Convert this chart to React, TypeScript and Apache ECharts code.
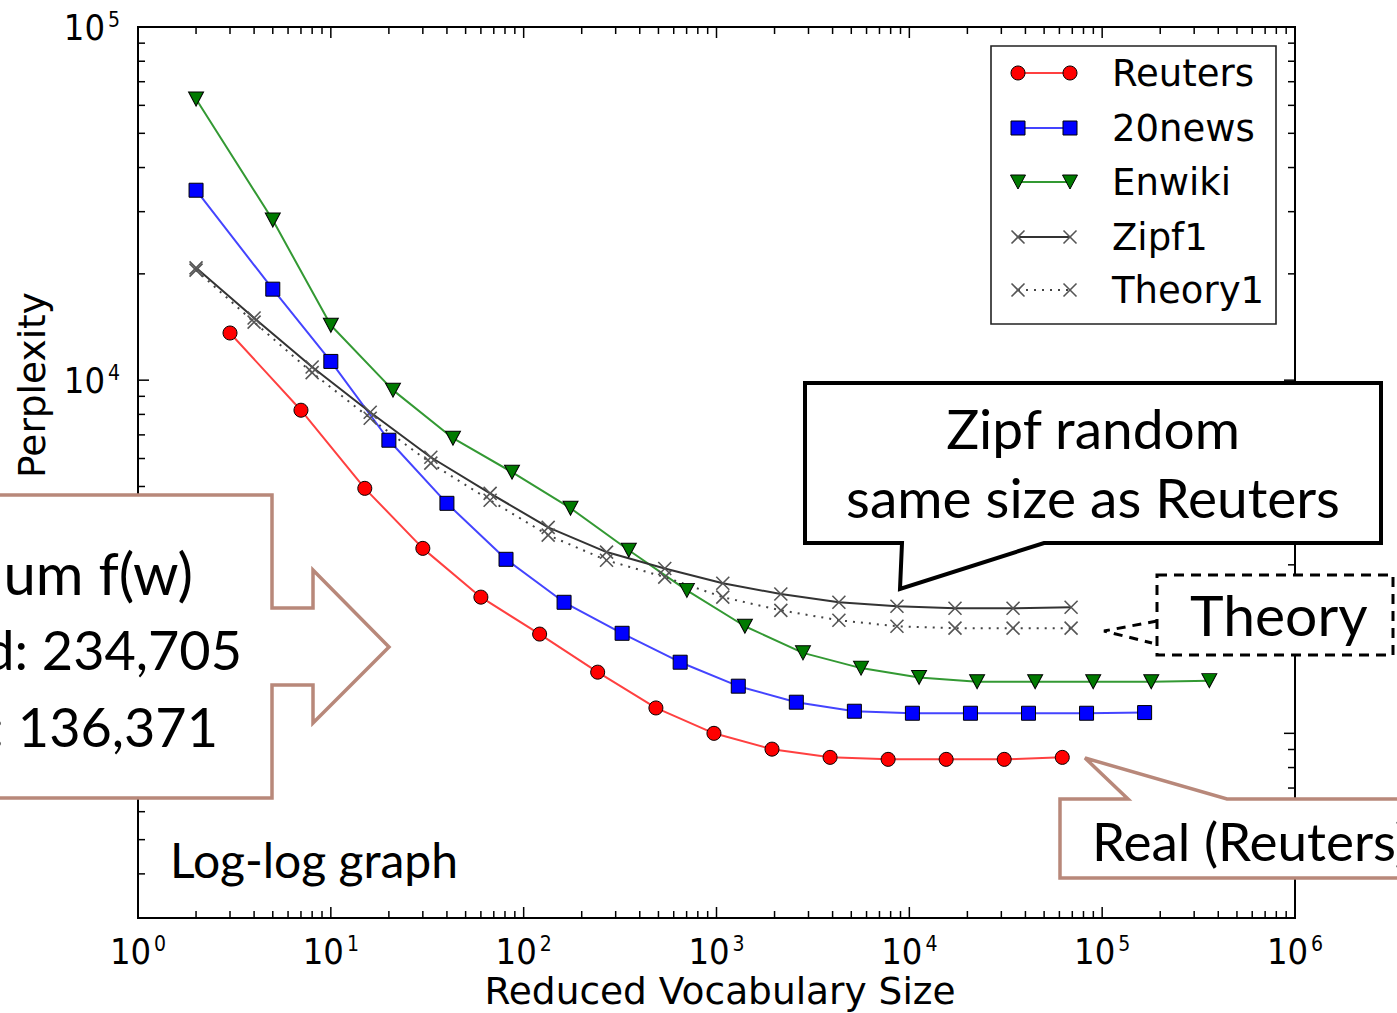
import React, { useEffect, useRef } from 'react';
import * as echarts from 'echarts';

// ---- data ----
const reutersX = [3, 7, 15, 30, 60, 121, 242, 485, 970, 1940, 3881, 7762, 15525, 31050, 62100];
const reutersY = [13600, 8220, 4940, 3340, 2430, 1910, 1490, 1180, 1000, 902, 855, 844, 844, 844, 855];

const news20X = [2, 5, 10, 20, 40, 81, 162, 324, 648, 1297, 2594, 5187, 10375, 20750, 41500, 83000, 166000];
const news20Y = [34500, 18100, 11300, 6760, 4480, 3110, 2350, 1920, 1590, 1360, 1225, 1155, 1140, 1140, 1140, 1140, 1145];

const enwikiX = [2, 5, 10, 21, 43, 87, 175, 351, 702, 1404, 2808, 5616, 11232, 22464, 44928, 89856, 179712, 359424];
const enwikiY = [62500, 28400, 14300, 9370, 6850, 5490, 4340, 3300, 2540, 2010, 1690, 1530, 1440, 1400, 1400, 1400, 1400, 1410];

const zipfX = [2, 4, 8, 16, 33, 67, 134, 269, 539, 1078, 2156, 4312, 8625, 17250, 34500, 69000];
const zipf1Y = [20800, 15000, 10900, 8110, 6050, 4780, 3830, 3260, 2930, 2660, 2480, 2350, 2290, 2260, 2260, 2275];
const theory1Y = [20500, 14600, 10500, 7800, 5820, 4570, 3640, 3090, 2770, 2430, 2230, 2090, 2010, 1985, 1985, 1985];

const legendNames = ['Reuters', '20news', 'Enwiki', 'Zipf1', 'Theory1'];
// y tick label hidden under the slide's callout box in the reference
const hiddenYLabels = [1000];
const xMin = 1, xMax = 1e6, yMin = 300, yMax = 1e5;

const BROWN = '#b8887a';
const X_PATH = 'path://M0,0L10,10M10,0L0,10';
const TICK_FONT = "'Liberation Sans Narrow', 'DejaVu Sans Condensed', 'DejaVu Sans', sans-serif";
const MPL_FONT = "'DejaVu Sans', sans-serif";
const SLIDE_FONT = "Lato, 'Open Sans', sans-serif";

const pairs = (xs: number[], ys: number[]) => xs.map((x, i) => [x, ys[i]]);

export default function App() {
  const ref = useRef<HTMLDivElement>(null);
  useEffect(() => {
    const chart = echarts.init(ref.current!, null, { renderer: 'svg' });
    const labelFmt = (hidden: number[]) => (v: number) => {
      const l = Math.log10(v);
      const r = Math.round(l);
      if (Math.abs(l - r) > 1e-6) return '';
      if (hidden.some((h) => Math.abs(h - v) < 1e-6)) return '';
      return `{a|10}{b|${r}}`;
    };
    const rich = {
      a: { fontSize: 36, fontFamily: TICK_FONT, color: '#000', lineHeight: 36 },
      b: { fontSize: 21, fontFamily: TICK_FONT, color: '#000', verticalAlign: 'top', lineHeight: 22, padding: [0, 0, 0, 3] },
    };
    const markerBorder = { borderColor: '#000', borderWidth: 1 };
    chart.setOption({
      animation: false,
      backgroundColor: '#fff',
      grid: {
        left: 138, right: 102, top: 27, bottom: 95,
        show: true, borderColor: '#000', borderWidth: 2, backgroundColor: 'transparent',
        outerBoundsMode: 'none',
      },
      xAxis: {
        type: 'log', logBase: 10, min: xMin, max: xMax,
        axisLine: { show: false }, axisTick: { show: false }, splitLine: { show: false },
        axisLabel: { formatter: labelFmt([]), rich, margin: 15 },
      },
      yAxis: {
        type: 'log', logBase: 10, min: yMin, max: yMax,
        axisLine: { show: false }, axisTick: { show: false }, splitLine: { show: false },
        axisLabel: { formatter: labelFmt(hiddenYLabels), rich, margin: 18 },
      },
      series: [
        {
          name: legendNames[0], type: 'line', data: pairs(reutersX, reutersY),
          symbol: 'circle', symbolSize: 14,
          itemStyle: { color: '#ff0000', ...markerBorder },
          lineStyle: { color: '#ff4040', width: 2 },
        },
        {
          name: legendNames[1], type: 'line', data: pairs(news20X, news20Y),
          symbol: 'rect', symbolSize: 14,
          itemStyle: { color: '#0000ff', ...markerBorder },
          lineStyle: { color: '#4444ff', width: 2 },
        },
        {
          name: legendNames[2], type: 'line', data: pairs(enwikiX, enwikiY),
          symbol: 'triangle', symbolRotate: 180, symbolSize: [15, 14],
          itemStyle: { color: '#007a00', ...markerBorder },
          lineStyle: { color: '#339933', width: 2 },
        },
        {
          name: legendNames[3], type: 'line', data: pairs(zipfX, zipf1Y),
          symbol: X_PATH, symbolSize: 13,
          itemStyle: { color: 'none', borderColor: '#555', borderWidth: 1.6 },
          lineStyle: { color: '#333', width: 2 },
        },
        {
          name: legendNames[4], type: 'line', data: pairs(zipfX, theory1Y),
          symbol: X_PATH, symbolSize: 13,
          itemStyle: { color: 'none', borderColor: '#555', borderWidth: 1.6 },
          lineStyle: { color: '#444', width: 2, type: [2, 6] },
        },
      ],
    });

    const px = (v: number) => chart.convertToPixel({ xAxisIndex: 0 }, v) as number;
    const py = (v: number) => chart.convertToPixel({ yAxisIndex: 0 }, v) as number;
    const xl = px(xMin), xr = px(xMax), yb = py(yMin), yt = py(yMax);
    const els: any[] = [];
    const tick = (x1: number, y1: number, x2: number, y2: number) =>
      els.push({ type: 'line', shape: { x1, y1, x2, y2 }, style: { stroke: '#000', lineWidth: 1.5 }, z: 5, silent: true });
    const MAJ = 11, MIN = 7;
    for (let k = 0; k <= 6; k++) {
      for (let m = 1; m <= 9; m++) {
        const v = m * Math.pow(10, k);
        if (v < xMin || v > xMax) continue;
        const x = px(v);
        const len = m === 1 ? MAJ : MIN;
        tick(x, yb, x, yb - len);
        tick(x, yt, x, yt + len);
      }
    }
    for (let k = 2; k <= 5; k++) {
      for (let m = 1; m <= 9; m++) {
        const v = m * Math.pow(10, k);
        if (v <= yMin || v > yMax) continue;
        const y = py(v);
        const len = m === 1 ? MAJ : MIN;
        tick(xl, y, xl + len, y);
        tick(xr, y, xr - len, y);
      }
    }

    // axis titles
    els.push({ type: 'text', x: 720, y: 991, z: 10,
      style: { text: 'Reduced Vocabulary Size', fontSize: 37.5, fontFamily: MPL_FONT, fill: '#000', align: 'center', verticalAlign: 'middle' } });
    els.push({ type: 'text', x: 32, y: 385, rotation: Math.PI / 2, z: 10,
      style: { text: 'Perplexity', fontSize: 37.5, fontFamily: MPL_FONT, fill: '#000', align: 'center', verticalAlign: 'middle' } });

    // legend
    const LX = 991, LY = 46;
    els.push({ type: 'rect', shape: { x: LX, y: LY, width: 285, height: 278 }, style: { fill: '#fff', stroke: '#222', lineWidth: 1.6 }, z: 60 });
    const rowY = [73, 128, 182, 237, 290];
    const lineCol = ['#ff4040', '#4444ff', '#339933', '#333', '#444'];
    legendNames.forEach((name, i) => {
      const y = rowY[i];
      els.push({ type: 'line', shape: { x1: 1018, y1: y, x2: 1070, y2: y },
        style: { stroke: lineCol[i], lineWidth: 2, lineDash: i === 4 ? [2, 6] : null }, z: 61 });
      [1018, 1070].forEach((cx) => {
        if (i === 0) els.push({ type: 'circle', shape: { cx, cy: y, r: 7 }, style: { fill: '#ff0000', stroke: '#000', lineWidth: 1 }, z: 62 });
        if (i === 1) els.push({ type: 'rect', shape: { x: cx - 7, y: y - 7, width: 14, height: 14 }, style: { fill: '#0000ff', stroke: '#000', lineWidth: 1 }, z: 62 });
        if (i === 2) els.push({ type: 'polygon', shape: { points: [[cx - 7.5, y - 7], [cx + 7.5, y - 7], [cx, y + 7]] }, style: { fill: '#007a00', stroke: '#000', lineWidth: 1 }, z: 62 });
        if (i >= 3) {
          els.push({ type: 'line', shape: { x1: cx - 6.5, y1: y - 6.5, x2: cx + 6.5, y2: y + 6.5 }, style: { stroke: '#555', lineWidth: 1.6 }, z: 62 });
          els.push({ type: 'line', shape: { x1: cx - 6.5, y1: y + 6.5, x2: cx + 6.5, y2: y - 6.5 }, style: { stroke: '#555', lineWidth: 1.6 }, z: 62 });
        }
      });
      els.push({ type: 'text', x: 1112, y, z: 62,
        style: { text: name, fontSize: 37, fontFamily: MPL_FONT, fill: '#000', align: 'left', verticalAlign: 'middle' } });
    });

    // slide annotations
    els.push({ type: 'polygon', z: 100,
      shape: { points: [[-10, 495], [272, 495], [272, 608], [313, 608], [313, 570], [389, 647], [313, 723], [313, 685], [272, 685], [272, 798], [-10, 798]] },
      style: { fill: '#fff', stroke: BROWN, lineWidth: 3.5 } });
    const leftLines: [string, number, number, number][] = [
      ['um f(w)', 193, 572, 58], ['d: 234,705', 242, 649, 54], [': 136,371', 218, 726, 54],
    ];
    leftLines.forEach(([t, rx, cy, fs]) => els.push({ type: 'text', x: rx, y: cy, z: 101,
      style: { text: t, fontSize: fs, fontFamily: SLIDE_FONT, fill: '#000', align: 'right', verticalAlign: 'middle' } }));

    els.push({ type: 'text', x: 170, y: 859, z: 101,
      style: { text: 'Log-log graph', fontSize: 48, fontFamily: SLIDE_FONT, fill: '#000', align: 'left', verticalAlign: 'middle' } });

    els.push({ type: 'polygon', z: 100,
      shape: { points: [[805, 383], [1381, 383], [1381, 543], [1044, 543], [900, 589], [902, 543], [805, 543]] },
      style: { fill: '#fff', stroke: '#000', lineWidth: 4 } });
    els.push({ type: 'text', x: 1093, y: 428, z: 101,
      style: { text: 'Zipf random', fontSize: 55, fontFamily: SLIDE_FONT, fill: '#000', align: 'center', verticalAlign: 'middle' } });
    els.push({ type: 'text', x: 1093, y: 497, z: 101,
      style: { text: 'same size as Reuters', fontSize: 55, fontFamily: SLIDE_FONT, fill: '#000', align: 'center', verticalAlign: 'middle' } });

    els.push({ type: 'rect', z: 100, shape: { x: 1157, y: 575, width: 236, height: 80 },
      style: { fill: '#fff', stroke: '#000', lineWidth: 3, lineDash: [10, 7] } });
    els.push({ type: 'polyline', z: 100, shape: { points: [[1157, 621], [1104, 631], [1152, 643]] },
      style: { fill: null, stroke: '#000', lineWidth: 3, lineDash: [9, 7] } });
    els.push({ type: 'text', x: 1190, y: 614, z: 101,
      style: { text: 'Theory', fontSize: 57, fontFamily: SLIDE_FONT, fill: '#000', align: 'left', verticalAlign: 'middle' } });

    els.push({ type: 'polygon', z: 100,
      shape: { points: [[1060, 799], [1128, 799], [1085, 758], [1227, 799], [1410, 799], [1410, 878], [1060, 878]] },
      style: { fill: '#fff', stroke: BROWN, lineWidth: 3.5 } });
    els.push({ type: 'text', x: 1092, y: 840, z: 101,
      style: { text: 'Real (Reuters)', fontSize: 53, fontFamily: SLIDE_FONT, fill: '#000', align: 'left', verticalAlign: 'middle' } });

    chart.setOption({ graphic: { elements: els } });
    return () => chart.dispose();
  }, []);
  return <div ref={ref} style={{ position: 'fixed', left: 0, top: 0, width: 1397, height: 1013 }} />;
}
